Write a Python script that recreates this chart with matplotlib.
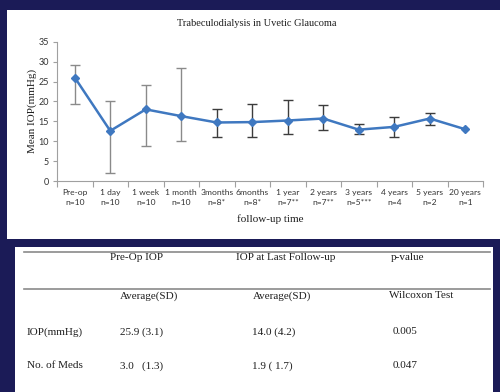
import matplotlib
matplotlib.use("Agg")
import matplotlib.pyplot as plt
from matplotlib.patches import Rectangle
from matplotlib.lines import Line2D

# ---- data ----
categories = ["Pre-op\nn=10", "1 day\nn=10", "1 week\nn=10", "1 month\nn=10",
              "3months\nn=8*", "6months\nn=8*", "1 year\nn=7**", "2 years\nn=7**",
              "3 years\nn=5***", "4 years\nn=4", "5 years\nn=2", "20 years\nn=1"]
mean_iop = [26.0, 12.6, 18.0, 16.3, 14.7, 14.8, 15.2, 15.7, 12.9, 13.6, 15.7, 13.0]
err_upper = [29.1, 20.2, 24.2, 28.3, 18.1, 19.3, 20.3, 19.2, 14.2, 16.2, 17.1, None]
err_lower = [19.3, 1.9, 8.9, 10.0, 11.0, 11.0, 11.8, 12.8, 11.8, 11.1, 14.0, None]
err_colors = ["#8a8a8a"] * 4 + ["#3c3c3c"] * 7 + ["#3c3c3c"]
yticks = [0, 5, 10, 15, 20, 25, 30, 35]

table_header1 = ["Pre-Op IOP", "IOP at Last Follow-up", "p-value"]
table_header2 = ["Average(SD)", "Average(SD)", "Wilcoxon Test"]
table_rows = [["IOP(mmHg)", "25.9 (3.1)", "14.0 (4.2)", "0.005"],
              ["No. of Meds", "3.0   (1.3)", "1.9 ( 1.7)", "0.047"]]

W, H = 500, 392
fig = plt.figure(figsize=(W / 100, H / 100), dpi=100)
fig.patch.set_facecolor("#1b1b57")

def fx(px):
    return px / W

def fy(py):
    return 1 - py / H

# panels
fig.patches.append(Rectangle((fx(7), fy(239)), 1 - fx(7), fy(10) - fy(239),
                             transform=fig.transFigure, facecolor="white",
                             edgecolor="none", zorder=0))
fig.patches.append(Rectangle((fx(15), 0), fx(493) - fx(15), fy(247),
                             transform=fig.transFigure, facecolor="white",
                             edgecolor="none", zorder=0))

serif = "Liberation Serif"
sans = "Lato"
tc = "#1e1e1e"

ax = fig.add_axes([fx(57), fy(181), fx(483) - fx(57), fy(41.7) - fy(181)])
ax.set_zorder(3)
ax.set_facecolor("none")
x = list(range(len(categories)))

for i in x:
    if err_upper[i] is not None:
        ax.errorbar([i], [mean_iop[i]],
                    yerr=[[mean_iop[i] - err_lower[i]], [err_upper[i] - mean_iop[i]]],
                    fmt="none", ecolor=err_colors[i], elinewidth=1.0,
                    capsize=3.6, capthick=1.0, zorder=2)
ax.plot(x, mean_iop, color="#3f78c0", lw=1.8, marker="D", ms=4,
        mfc="#3f78c0", mec="#3f78c0", zorder=3)

ax.set_xlim(-0.5, len(categories) - 0.5)
ax.set_ylim(0, 35)
ax.set_yticks(yticks)
ax.set_yticklabels([str(v) for v in yticks], fontfamily=sans, fontsize=6.5, color="#333333")
ax.set_xticks(x)
ax.set_xticklabels(categories, fontfamily=sans, fontsize=6.1, color="#333333",
                   linespacing=1.5)
ax.tick_params(axis="x", length=0, pad=6)
ax.set_xticks([i + 0.5 for i in range(-1, len(categories))], minor=True)
ax.tick_params(axis="x", which="minor", length=4, color="#a0a0a0", width=0.8)
ax.tick_params(axis="y", length=3, color="#a0a0a0", width=0.8, pad=3)
for s in ["top", "right"]:
    ax.spines[s].set_visible(False)
for s in ["left", "bottom"]:
    ax.spines[s].set_color("#a0a0a0")
    ax.spines[s].set_linewidth(0.8)

ax.set_ylabel("Mean IOP(mmHg)", fontfamily=serif, fontsize=8, color=tc, labelpad=1)
ax.set_xlabel("follow-up time", fontfamily=serif, fontsize=8, color=tc, labelpad=6)
fig.text(fx(257), fy(24), "Trabeculodialysis in Uvetic Glaucoma", ha="center",
         va="center", fontfamily=serif, fontsize=7.5, color=tc, zorder=4)

# ---- table ----
for yl in [251.7, 289]:
    fig.add_artist(Line2D([fx(24), fx(490)], [fy(yl), fy(yl)], color="#8a8a8a",
                          lw=1.2, transform=fig.transFigure, zorder=4))
hx = [137, 286, 408]
for t, xc in zip(table_header1, hx):
    fig.text(fx(xc), fy(258), t, ha="center", va="center", fontfamily=serif,
             fontsize=8, color=tc, zorder=4)
h2x = [149, 282, 421]
for t, xc in zip(table_header2, h2x):
    fig.text(fx(xc), fy(296), t, ha="center", va="center", fontfamily=serif,
             fontsize=8, color=tc, zorder=4)
colx = [27, 120, 252, 393]
for row, yr in zip(table_rows, [332, 366]):
    for t, xl in zip(row, colx):
        fig.text(fx(xl), fy(yr), t, ha="left", va="center", fontfamily=serif,
                 fontsize=8, color=tc, zorder=4)

fig.savefig("out.png", dpi=100, facecolor=fig.get_facecolor())
